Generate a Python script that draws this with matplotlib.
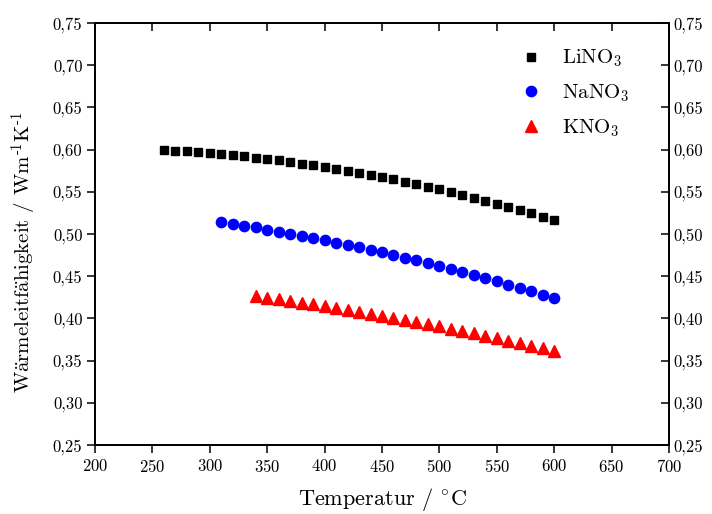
import matplotlib
matplotlib.use("Agg")
import matplotlib.pyplot as plt
from matplotlib.ticker import FuncFormatter, MultipleLocator

plt.rcParams["font.family"] = ["cmr10", "DejaVu Serif"]
plt.rcParams["mathtext.fontset"] = "cm"
plt.rcParams["axes.formatter.use_mathtext"] = True
plt.rcParams["axes.unicode_minus"] = False

# Thermal conductivity of molten nitrate salts
temp_li = list(range(260, 601, 10))
lino3 = [0.5995, 0.5987, 0.5978, 0.5968, 0.5957, 0.5945, 0.5933, 0.5919, 0.5904,
         0.5889, 0.5871, 0.5853, 0.5834, 0.5814, 0.5793, 0.5772, 0.5749, 0.5725,
         0.5700, 0.5674, 0.5647, 0.5619, 0.5590, 0.5561, 0.5530, 0.5498, 0.5465,
         0.5431, 0.5396, 0.5360, 0.5323, 0.5285, 0.5246, 0.5207, 0.5166]

temp_na = list(range(310, 601, 10))
nano3 = [0.5142, 0.5121, 0.5099, 0.5077, 0.5053, 0.5029, 0.5005, 0.4979, 0.4953,
         0.4927, 0.4899, 0.4871, 0.4842, 0.4812, 0.4782, 0.4751, 0.4719, 0.4687,
         0.4654, 0.4620, 0.4585, 0.4550, 0.4514, 0.4477, 0.4440, 0.4401, 0.4362,
         0.4323, 0.4283, 0.4242]

temp_k = list(range(340, 601, 10))
kno3 = [0.4265, 0.4246, 0.4227, 0.4207, 0.4187, 0.4166, 0.4145, 0.4124, 0.4101,
        0.4078, 0.4055, 0.4031, 0.4007, 0.3982, 0.3957, 0.3931, 0.3905, 0.3878,
        0.3851, 0.3823, 0.3795, 0.3766, 0.3736, 0.3706, 0.3676, 0.3645, 0.3614]

xlim = (200, 700)
ylim = (0.25, 0.75)

fig = plt.figure(figsize=(7.12, 5.14), dpi=100)
ax = fig.add_axes([0.1334, 0.1342, 0.8062, 0.8211])

ax.plot(temp_li, lino3, ls="none", marker="s", ms=6.2, color="black",
        label=r"LiNO$_3$")
ax.plot(temp_na, nano3, ls="none", marker="o", ms=7.4, color="#0000ff",
        label=r"NaNO$_3$")
ax.plot(temp_k, kno3, ls="none", marker="^", ms=8.6, color="#ff0000",
        label=r"KNO$_3$")

comma = FuncFormatter(lambda v, p: f"{v:.2f}".replace(".", ","))

ax.set_xlim(*xlim)
ax.set_ylim(*ylim)
ax.xaxis.set_major_locator(MultipleLocator(50))
ax.yaxis.set_major_locator(MultipleLocator(0.05))
ax.yaxis.set_major_formatter(comma)
ax.tick_params(direction="out", length=6, width=1.1, labelsize=12, pad=3)

# right axis: inward ticks with labels
axr = ax.twinx()
axr.set_ylim(*ylim)
axr.yaxis.set_major_locator(MultipleLocator(0.05))
axr.yaxis.set_major_formatter(comma)
axr.tick_params(direction="in", length=6, width=1.1, labelsize=12, pad=3)

# top axis: inward ticks without labels
axt = ax.twiny()
axt.set_xlim(*xlim)
axt.xaxis.set_major_locator(MultipleLocator(50))
axt.tick_params(direction="in", length=6, width=1.1, labeltop=False)

for a in (ax, axr, axt):
    for s in a.spines.values():
        s.set_linewidth(1.1)

ax.set_xlabel(r"Temperatur / $^{\circ}$C", fontsize=16, labelpad=8.5)
ax.set_ylabel(r"W$\mathrm{\ddot{a}}$rmeleitf$\mathrm{\ddot{a}}$higkeit / Wm$^{\text{-}1}$K$^{\text{-}1}$",
              fontsize=15)
ax.yaxis.set_label_coords(-0.098, 0.457)

ax.legend(loc="upper right", bbox_to_anchor=(0.978, 1.005), frameon=False,
          fontsize=15, handletextpad=0.75, labelspacing=0.63,
          borderaxespad=0.9, handlelength=1.5)

fig.savefig("out.png", dpi=100)
